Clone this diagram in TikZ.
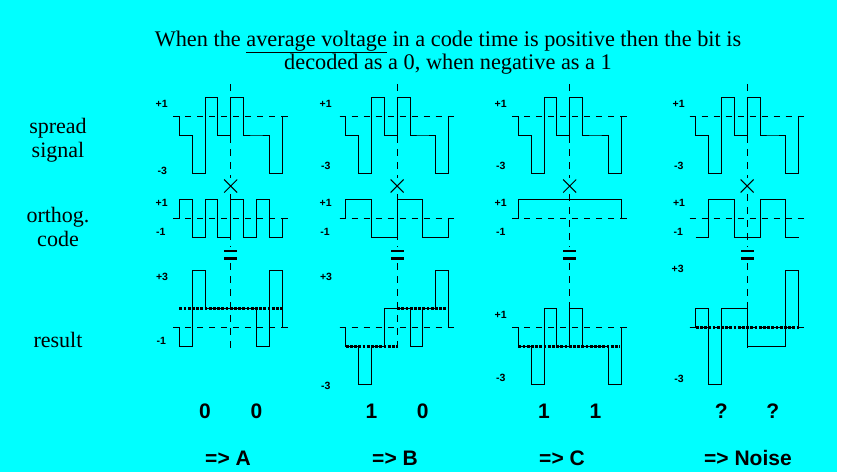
\documentclass[tikz,border=0pt]{standalone}
\usepackage{fontspec}
\setmainfont{Liberation Serif}
\newfontfamily\sansf{Liberation Sans}
\definecolor{bgcyan}{HTML}{00FFFF}
\def\chw{12.85}
\def\un{19}
% waveform with baseline stubs: #1 = first chip edge x, #2 = baseline y, #3 = chip values
\newcommand\wfs[3]{\draw[wave] ({#1-6},#2) -- (#1,#2) foreach \v [count=\i] in {#3} {-- ({#1+(\i-1)*\chw},{#2-\v*\un}) -- ({#1+\i*\chw},{#2-\v*\un})} -- ({#1+8*\chw},#2) -- ({#1+8*\chw+5.7},#2);}
% waveform without stubs (starts at level -1)
\newcommand\wfn[3]{\draw[wave] (#1,{#2+\un}) foreach \v [count=\i] in {#3} {-- ({#1+(\i-1)*\chw},{#2-\v*\un}) -- ({#1+\i*\chw},{#2-\v*\un})};}
\newcommand\bline[2]{\draw[base] ({#1-6},#2) -- ({#1+8*\chw+5.7},#2);}
\newcommand\cenmark[1]{%
 \draw[vcen] (#1,84) -- (#1,178);
 \draw[vcen] (#1,194) -- (#1,247);
 \draw[vcen] (#1,263) -- (#1,353);
 \draw[line width=1pt] ({#1-6.5},179.5) -- ({#1+6.5},192.5) ({#1-6.5},192.5) -- ({#1+6.5},179.5);
 \fill ({#1-6.5},249.7) rectangle ({#1+6.5},252.4);
 \fill ({#1-6.5},257.4) rectangle ({#1+6.5},260.1);}
\begin{document}
\begin{tikzpicture}[x=1pt,y=-1pt,
  wave/.style={line width=0.9pt},
  base/.style={line width=0.8pt, dash pattern=on 6pt off 6pt},
  avg/.style={line width=2.8pt, dash pattern=on 2.8pt off 1.4pt},
  vcen/.style={line width=0.9pt, dash pattern=on 7pt off 6pt},
  lvl/.style={font=\sansf\bfseries\fontsize{10.5}{11}\selectfont, inner sep=0pt},
  rowlab/.style={font=\fontsize{22}{24}\selectfont, align=center, inner sep=0pt},
  bits/.style={font=\sansf\bfseries\fontsize{21}{24}\selectfont, inner sep=0pt},
]
\fill[white] (0,0) rectangle (841,475);
\fill[bgcyan] (0,0) rectangle (837,472);
\useasboundingbox (0,0) rectangle (841,475);

\node[font=\fontsize{22.3}{20.5}\selectfont, align=center, inner sep=0pt] (title) at (448,52.5)
  {When the \underline{average voltage} in a code time is positive then the bit is\\decoded as a 0, when negative as a 1};

\node[rowlab] (lspread) at (58,140) {spread\\signal};
\node[rowlab] (lcode) at (58,226.5) {orthog.\\code};
\node[rowlab] (lres) at (58,340) {result};

% ---------- Column A ----------
\bline{179.3}{116} \bline{179.3}{218.7} \bline{179.3}{327.3}
\wfs{179.3}{116}{-1,-3,1,-1,1,-1,-1,-3}
\wfs{179.3}{218.7}{1,-1,1,-1,1,-1,1,-1}
\wfs{179.3}{327.3}{-1,3,1,1,1,1,-1,3}
\draw[avg] (179.3,308.3) -- (282.1,308.3);
\cenmark{230.7}
\node[lvl] (a1) at (161.7,104.3) {+1};
\node[lvl] (a2) at (162.3,170.7) {-3};
\node[lvl] (a3) at (161.7,203.3) {+1};
\node[lvl] (a4) at (160.7,232.3) {-1};
\node[lvl] (a5) at (162,277.3) {+3};
\node[lvl] (a6) at (161.3,341) {-1};
\node[bits] (ab1) at (205,411) {0};
\node[bits] (ab2) at (256.4,411) {0};
\node[bits] (ar) at (228,458) {=> A};

% ---------- Column B ----------
\bline{345.7}{116} \bline{345.7}{218.7} \bline{345.7}{327.3}
\wfs{345.7}{116}{-1,-3,1,-1,1,-1,-1,-3}
\wfs{345.7}{218.7}{1,1,-1,-1,1,1,-1,-1}
\wfs{345.7}{327.3}{-1,-3,-1,1,1,-1,1,3}
\draw[avg] (345.7,346.3) -- (396.3,346.3);
\draw[avg] (397.1,308.3) -- (447.6,308.3);
\cenmark{397.1}
\node[lvl] (b1) at (325.7,104.3) {+1};
\node[lvl] (b2) at (325.7,165.7) {-3};
\node[lvl] (b3) at (325.7,203.3) {+1};
\node[lvl] (b4) at (325,232.3) {-1};
\node[lvl] (b5) at (326,277.3) {+3};
\node[lvl] (b6) at (325.7,386) {-3};
\node[bits] (bb1) at (371.4,411) {1};
\node[bits] (bb2) at (422.8,411) {0};
\node[bits] (br) at (395,458) {=> B};

% ---------- Column C ----------
\bline{518.3}{116} \bline{518.3}{218.7} \bline{518.3}{327.3}
\wfs{518.3}{116}{-1,-3,1,-1,1,-1,-1,-3}
\wfs{518.3}{218.7}{1,1,1,1,1,1,1,1}
\wfs{518.3}{327.3}{-1,-3,1,-1,1,-1,-1,-3}
\draw[avg] (518.3,346.3) -- (620,346.3);
\cenmark{569.7}
\node[lvl] (c1) at (500.7,104.3) {+1};
\node[lvl] (c2) at (500.7,165.7) {-3};
\node[lvl] (c3) at (500.7,203.3) {+1};
\node[lvl] (c4) at (500.7,232.3) {-1};
\node[lvl] (c5) at (500.7,315) {+1};
\node[lvl] (c6) at (500.7,378.3) {-3};
\node[bits] (cb1) at (544,411) {1};
\node[bits] (cb2) at (595.4,411) {1};
\node[bits] (cr) at (562,458) {=> C};

% ---------- Column D ----------
\bline{695.7}{116} \bline{695.7}{218.7} \bline{695.7}{327.3}
\wfs{695.7}{116}{-1,-3,1,-1,1,-1,-1,-3}
\wfn{695.7}{218.7}{-1,1,1,-1,-1,1,1,-1}
\wfs{695.7}{327.3}{1,-3,1,1,-1,-1,-1,3}
\draw[avg] (695.7,327.3) -- (798.5,327.3);
\cenmark{747.1}
\node[lvl] (d1) at (678.7,104.3) {+1};
\node[lvl] (d2) at (678.7,165.7) {-3};
\node[lvl] (d3) at (679,203.3) {+1};
\node[lvl] (d4) at (678.3,232.3) {-1};
\node[lvl] (d5) at (677.7,269.3) {+3};
\node[lvl] (d6) at (679,379) {-3};
\node[bits] (db1) at (721.4,411) {?};
\node[bits] (db2) at (772.8,411) {?};
\node[bits] (dr) at (748,458) {=> Noise};
\end{tikzpicture}
\end{document}
